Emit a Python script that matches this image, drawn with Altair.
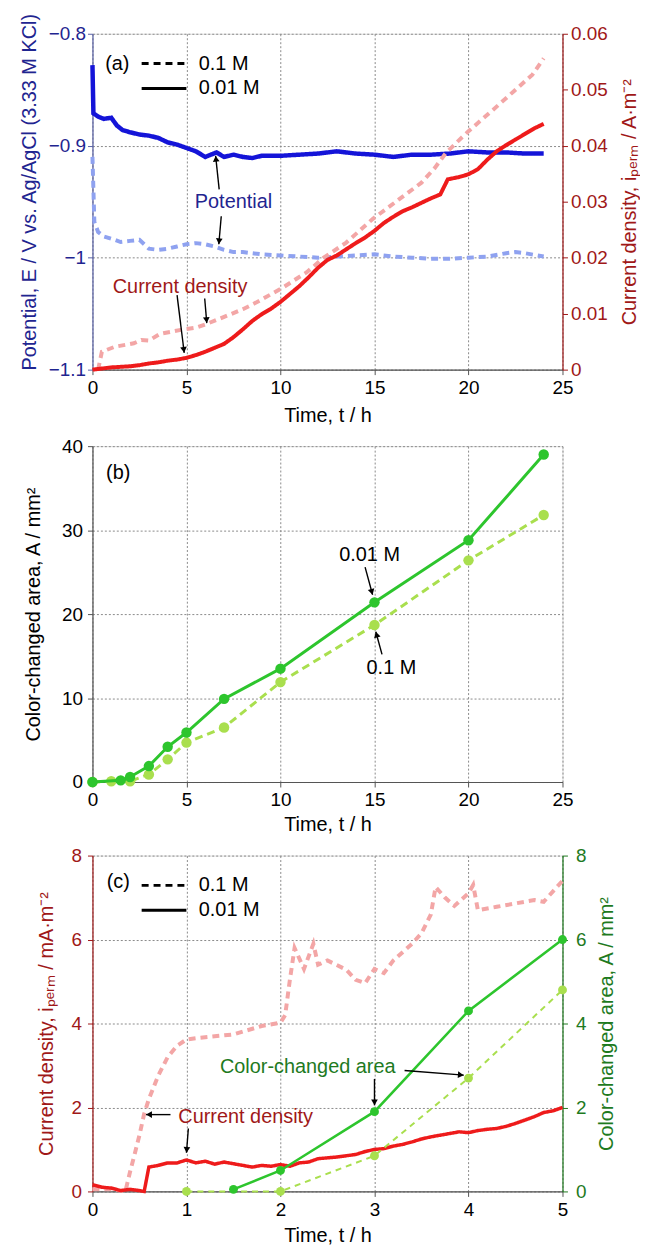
import math
import altair as alt
import pandas as pd

FONT = "Liberation Sans"
W, H = 473, 338

# ---------------- Panel (a) data ----------------
a_pot_001_t = [0, 0.05, 0.3, 0.6, 1.0, 1.3, 1.6, 2.0, 2.5, 3.0, 3.5, 4.0, 4.5, 5.0, 5.5, 6.0, 6.3, 6.6,
               7.0, 7.5, 8.0, 8.5, 9.0, 10.0, 11.0, 12.0, 13.0, 14.0, 15.0, 16.0, 17.0, 18.0, 19.0,
               20.0, 21.0, 22.0, 23.0, 24.0]
a_pot_001_v = [-0.828, -0.871, -0.874, -0.876, -0.875, -0.882, -0.886, -0.888, -0.890, -0.891, -0.893,
               -0.897, -0.899, -0.902, -0.905, -0.910, -0.908, -0.906, -0.910, -0.908, -0.910, -0.911,
               -0.909, -0.909, -0.908, -0.907, -0.905, -0.907, -0.908, -0.910, -0.908, -0.908, -0.907,
               -0.905, -0.906, -0.906, -0.907, -0.907]

a_pot_01_t = [0, 0.1, 0.3, 0.6, 1.0, 1.5, 2.0, 2.5, 3.0, 3.5, 4.0, 4.5, 5.0, 5.5, 6.0, 6.5, 7.0, 7.5,
              8.0, 9.0, 10.0, 11.0, 12.0, 13.0, 14.0, 15.0, 16.0, 17.0, 18.0, 19.0, 20.0, 21.0, 22.0,
              22.5, 23.0, 24.0]
a_pot_01_v = [-0.910, -0.968, -0.977, -0.981, -0.983, -0.986, -0.985, -0.984, -0.992, -0.993, -0.992,
              -0.990, -0.988, -0.987, -0.988, -0.990, -0.993, -0.995, -0.995, -0.997, -0.998, -0.999,
              -1.000, -0.999, -0.998, -0.997, -0.999, -1.000, -1.001, -1.001, -1.000, -0.999, -0.996,
              -0.995, -0.996, -0.999]

a_cd_001_t = [0, 0.5, 1, 1.5, 2, 2.5, 3, 3.5, 4, 4.5, 5, 5.5, 6, 6.5, 7, 7.5, 8, 8.5, 9, 9.5, 10, 10.5,
              11, 11.5, 12, 12.5, 13, 13.5, 14, 14.5, 15, 15.5, 16, 16.5, 17, 17.5, 18, 18.5, 18.9,
              19.5, 20, 20.5, 21, 21.5, 22, 22.5, 23, 23.5, 24]
a_cd_001_v = [0, 0.0002, 0.0004, 0.0005, 0.0006, 0.0008, 0.0011, 0.0013, 0.0016, 0.0018, 0.0021,
              0.0026, 0.0032, 0.0039, 0.0046, 0.0058, 0.0072, 0.0087, 0.0099, 0.0109, 0.0121, 0.0135,
              0.0149, 0.0165, 0.0182, 0.0196, 0.0204, 0.0215, 0.0226, 0.0236, 0.0248, 0.0262, 0.0273,
              0.0283, 0.0290, 0.0298, 0.0306, 0.0313, 0.0340, 0.0344, 0.0349, 0.0358, 0.0375, 0.0390,
              0.0401, 0.0411, 0.0421, 0.0431, 0.0439]

a_cd_01_t = [0.3, 0.5, 1.2, 2.2, 2.6, 3.0, 3.6, 4.7, 5.5, 6.1, 7.2, 8.0, 8.6, 10.0, 11.4, 12.3, 13.5,
             14.9, 16.3, 17.5, 18.2, 18.8, 19.5, 20.0, 21.3, 22.4, 23.4, 24.0]
a_cd_01_v = [0, 0.0032, 0.0041, 0.0047, 0.0053, 0.0052, 0.0064, 0.0071, 0.0075, 0.0082, 0.0097,
             0.0108, 0.0118, 0.0144, 0.0174, 0.0200, 0.0227, 0.0269, 0.0304, 0.0334, 0.0360, 0.0387,
             0.0410, 0.0426, 0.0464, 0.0497, 0.0527, 0.0556]

# annotations (a)
a_panel_label = {"t": [1.32], "v": [-0.8266], "s": ["(a)"]}
a_pot_label = {"t": [7.5], "v": [-0.950], "s": ["Potential"]}
a_pot_arrows = {"x1": [6.74, 6.85], "y1": [-0.939, -0.963], "x2": [6.55, 6.72], "y2": [-0.909, -0.988]}
a_cd_label = {"t": [4.66], "v": [0.0147], "s": ["Current density"]}
a_cd_arrows = {"x1": [4.5, 5.97], "y1": [0.0133, 0.0127], "x2": [4.88, 6.08], "y2": [0.0030, 0.0083]}

# ---------------- Panel (b) data ----------------
b_001_t = [0, 1.5, 2, 3, 4, 5, 7, 10, 15, 20, 24]
b_001_v = [0, 0.2, 0.6, 1.9, 4.2, 5.9, 9.9, 13.5, 21.4, 28.8, 39.0]
b_01_t = [0, 1, 2, 3, 4, 5, 7, 10, 15, 20, 24]
b_01_v = [0, 0.1, 0.1, 0.9, 2.7, 4.7, 6.5, 11.9, 18.7, 26.4, 31.8]
b_panel_label = {"t": [1.37], "v": [36.8], "s": ["(b)"]}
b_labels = {"t": [14.74, 15.9], "v": [27.0, 13.6], "s": ["0.01 M", "0.1 M"]}
b_arrows = {"x1": [14.5, 15.4], "y1": [25.6, 15.2], "x2": [14.9, 15.07], "y2": [22.3, 17.9]}

# ---------------- Panel (c) data ----------------
c_cd_001_t = [0, 0.1, 0.2, 0.3, 0.4, 0.5, 0.55, 0.6, 0.7, 0.8, 0.9, 1.0, 1.1, 1.2, 1.3, 1.4, 1.5,
              1.6, 1.7, 1.8, 1.9, 2.0, 2.1, 2.2, 2.3, 2.4, 2.5, 2.6, 2.7, 2.8, 2.9, 3.0, 3.1, 3.2,
              3.3, 3.4, 3.5, 3.6, 3.7, 3.8, 3.9, 4.0, 4.1, 4.2, 4.3, 4.4, 4.5, 4.6, 4.7, 4.8, 4.9, 5.0]
c_cd_001_v = [0.16, 0.10, 0.08, 0.02, 0.05, 0.02, 0.0, 0.58, 0.62, 0.68, 0.68, 0.75, 0.68, 0.72, 0.65,
              0.70, 0.66, 0.62, 0.58, 0.62, 0.60, 0.64, 0.60, 0.68, 0.70, 0.78, 0.80, 0.82, 0.85, 0.88,
              0.95, 1.00, 1.02, 1.08, 1.12, 1.18, 1.25, 1.30, 1.34, 1.38, 1.42, 1.40, 1.45, 1.48, 1.50,
              1.55, 1.62, 1.70, 1.78, 1.88, 1.92, 2.00]
c_cd_01_t = [0, 0.2, 0.35, 0.4, 0.45, 0.5, 0.55, 0.6, 0.7, 0.8, 0.9, 1.0, 1.1, 1.5, 1.8, 2.0, 2.05,
             2.1, 2.15, 2.25, 2.35, 2.4, 2.5, 2.7, 2.8, 2.9, 3.0, 3.1, 3.2, 3.4, 3.5, 3.6, 3.65, 3.75,
             3.85, 4.0, 4.05, 4.1, 4.3, 4.5, 4.7, 4.8, 5.0]
c_cd_01_v = [0.05, 0.05, 0.0, 0.47, 0.9, 1.34, 1.85, 2.2, 2.76, 3.2, 3.47, 3.62, 3.65, 3.74, 3.94,
             4.02, 4.2, 5.04, 5.8, 5.3, 5.9, 5.4, 5.5, 5.28, 5.04, 4.96, 5.3, 5.2, 5.5, 5.9, 6.15, 6.6,
             7.25, 7.0, 6.8, 7.1, 7.3, 6.7, 6.78, 6.86, 6.94, 6.9, 7.4]
c_area_001_t = [1.5, 2, 3, 4, 5]
c_area_001_v = [0.05, 0.5, 1.9, 4.3, 6.0]
c_area_01_t = [1, 2, 3, 4, 5]
c_area_01_v = [0.0, 0.0, 0.85, 2.7, 4.8]
c_panel_label = {"t": [0.275], "v": [7.36], "s": ["(c)"]}
c_area_label = {"t": [2.29], "v": [2.97], "s": ["Color-changed area"]}
c_area_arrows = {"x1": [3.0, 3.32], "y1": [2.68, 2.88], "x2": [3.0, 3.95], "y2": [2.05, 2.77]}
c_cd_label = {"t": [1.63], "v": [1.77], "s": ["Current density"]}
c_cd_arrows = {"x1": [0.83, 1.02], "y1": [1.83, 1.50], "x2": [0.57, 1.0], "y2": [1.83, 0.92]}

# ---------------- colours ----------------
BLUE = "#1414d8"
LBLUE = "#8fa2f0"
RED = "#ee1b1b"
PINK = "#f3a6a6"
GREEN = "#2dc52d"
LGREEN = "#a9df4e"
NAVY = "#1f2590"
DRED = "#a01818"
DGREEN = "#1e7a1e"
GRID = "#8a8a8a"
FRAME = "#555555"

dash_domain = ["0.1 M", "0.01 M"]
dash_range = [[7, 5], [1, 0]]


def series(t, v, conc):
    return pd.DataFrame({"t": t, "v": v, "conc": [conc] * len(t)})


def arrow_df(d, xdom, ydom, back=3.0):
    rows = []
    xr = xdom[1] - xdom[0]
    yr = ydom[1] - ydom[0]
    for a, b, c, e in zip(d["x1"], d["y1"], d["x2"], d["y2"]):
        dx = (c - a) / xr * W
        dy = -(e - b) / yr * H
        L = math.hypot(dx, dy)
        ang = math.degrees(math.atan2(dx, -dy)) % 360
        hx = c - (dx / L * back) * xr / W
        hy = e + (dy / L * back) * yr / H
        rows.append({"x": a, "y": b, "x2": c, "y2": e, "hx": hx, "hy": hy, "ang": ang})
    return pd.DataFrame(rows)


def axis(values, title, orient, color="black", grid=True, label_pad=2, title_pad=6,
         title_angle=None, title_y=None, title_baseline=None, domain_color=FRAME, fmt=None):
    kw = dict(
        values=values, title=title, orient=orient,
        tickSize=5, tickColor=domain_color, tickWidth=1, labelFlush=False,
        labelPadding=label_pad, titlePadding=title_pad,
        labelColor=color, titleColor=color, domainColor=domain_color, domainWidth=1.2,
        labelFont=FONT, titleFont=FONT, labelFontSize=19, titleFontSize=20,
        titleFontWeight="normal", grid=grid,
    )
    if fmt is not None:
        kw["format"] = fmt
    if grid:
        kw.update(gridColor=GRID, gridDash=[2, 2], gridWidth=1)
    if title_angle is not None:
        kw["titleAngle"] = title_angle
    if title_y is not None:
        kw["titleY"] = title_y
    if title_baseline is not None:
        kw["titleBaseline"] = title_baseline
    return alt.Axis(**kw)


def text_layer(d, xs, ys, color, xax, yax=None):
    return alt.Chart(pd.DataFrame(d)).mark_text(font=FONT, fontSize=20, color=color).encode(
        x=alt.X("t:Q", scale=xs, axis=xax),
        y=alt.Y("v:Q", scale=ys, axis=yax),
        text="s:N",
    )


def arrow_layers(df, xs, ys, xax, yax=None):
    rule = alt.Chart(df).mark_rule(color="black", strokeWidth=1.4).encode(
        x=alt.X("x:Q", scale=xs, axis=xax), y=alt.Y("y:Q", scale=ys, axis=yax),
        x2="x2:Q", y2="y2:Q",
    )
    head = alt.Chart(df).mark_point(shape="triangle-up", filled=True, size=45, color="black",
                                    opacity=1).encode(
        x=alt.X("hx:Q", scale=xs, axis=xax), y=alt.Y("hy:Q", scale=ys, axis=yax),
        angle=alt.Angle("ang:Q", scale=None),
    )
    return [rule, head]


def legend():
    return alt.Legend(
        title=None, orient="none", legendX=47, legendY=20,
        symbolType="M-1,0H5", symbolStrokeColor="black", symbolStrokeWidth=3, symbolSize=225,
        labelFont=FONT, labelFontSize=20, labelColor="black",
        labelOffset=40, rowPadding=5, padding=0, direction="vertical",
    )


def line(df, xs, ys, color, width, xax, yax=None, dash_scale=None, leg=None, dash=None):
    mk = dict(color=color, strokeWidth=width)
    if dash is not None:
        mk["strokeDash"] = dash
    enc = dict(x=alt.X("t:Q", scale=xs, axis=xax), y=alt.Y("v:Q", scale=ys, axis=yax))
    if dash_scale is not None:
        enc["strokeDash"] = alt.StrokeDash("conc:N", scale=dash_scale, legend=leg)
    return alt.Chart(df).mark_line(**mk).encode(**enc)


def dots(df, xs, ys, color, size, xax, yax=None):
    return alt.Chart(df).mark_circle(color=color, size=size, opacity=1).encode(
        x=alt.X("t:Q", scale=xs, axis=xax), y=alt.Y("v:Q", scale=ys, axis=yax))


# ---------------- Panel (a) ----------------
xa_dom, ya_dom, ya2_dom = [0, 25], [-1.1, -0.8], [0, 0.06]
xa = alt.Scale(domain=xa_dom, nice=False)
ya = alt.Scale(domain=ya_dom, nice=False, zero=False)
ya2 = alt.Scale(domain=ya2_dom, nice=False)
dash_a = alt.Scale(domain=dash_domain, range=dash_range)
x_major_25 = [0, 5, 10, 15, 20, 25]
xa_axis = axis(x_major_25, "Time, t / h", "bottom", label_pad=4, title_pad=8)
ya_axis = axis([-1.1, -1.0, -0.9, -0.8], "Potential, E / V vs. Ag/AgCl (3.33 M KCl)", "left",
               color=NAVY, label_pad=2, title_pad=9, title_y=159, domain_color="#5a62a8",
               fmt="~g")
ya2_axis = axis([0, 0.01, 0.02, 0.03, 0.04, 0.05, 0.06], "Current density, iₚₑᵣₘ / A·m⁻²",
                "right", color=DRED, grid=False, label_pad=3, title_pad=12, title_angle=270,
                title_baseline="top", domain_color=DRED, fmt="~g")

layers_a = [
    line(series(a_pot_01_t, a_pot_01_v, "0.1 M"), xa, ya, LBLUE, 4, xa_axis, dash_scale=dash_a,
         leg=legend()),
    line(series(a_pot_001_t, a_pot_001_v, "0.01 M"), xa, ya, BLUE, 4.5, xa_axis, yax=ya_axis,
         dash_scale=dash_a, leg=legend()),
    text_layer(a_panel_label, xa, ya, "black", xa_axis),
    text_layer(a_pot_label, xa, ya, NAVY, xa_axis),
    *arrow_layers(arrow_df(a_pot_arrows, xa_dom, ya_dom), xa, ya, xa_axis),
    line(series(a_cd_01_t, a_cd_01_v, "0.1 M"), xa, ya2, PINK, 4, xa_axis, yax=ya2_axis,
         dash_scale=dash_a, leg=legend()),
    line(series(a_cd_001_t, a_cd_001_v, "0.01 M"), xa, ya2, RED, 4, xa_axis, dash_scale=dash_a,
         leg=legend()),
    text_layer(a_cd_label, xa, ya2, DRED, xa_axis),
    *arrow_layers(arrow_df(a_cd_arrows, xa_dom, ya2_dom), xa, ya2, xa_axis),
]
panel_a = alt.layer(*layers_a).resolve_scale(y="independent").properties(width=W, height=H)

# ---------------- Panel (b) ----------------
xb_dom, yb_dom = [0, 25], [0, 40]
xb = alt.Scale(domain=xb_dom, nice=False)
yb = alt.Scale(domain=yb_dom, nice=False)
xb_axis = axis(x_major_25, "Time, t / h", "bottom", label_pad=4, title_pad=5)
yb_axis = axis([0, 10, 20, 30, 40], "Color-changed area, A / mm²", "left", label_pad=5,
               title_pad=18)
df_b01 = series(b_01_t, b_01_v, "0.1 M")
df_b001 = series(b_001_t, b_001_v, "0.01 M")
panel_b = alt.layer(
    line(df_b01, xb, yb, LGREEN, 3, xb_axis, yax=yb_axis, dash=[8, 5]),
    dots(df_b01, xb, yb, LGREEN, 110, xb_axis, yb_axis),
    line(df_b001, xb, yb, GREEN, 3, xb_axis, yax=yb_axis),
    dots(df_b001, xb, yb, GREEN, 110, xb_axis, yb_axis),
    text_layer(b_panel_label, xb, yb, "black", xb_axis, yb_axis),
    text_layer(b_labels, xb, yb, "black", xb_axis, yb_axis),
    *arrow_layers(arrow_df(b_arrows, xb_dom, yb_dom), xb, yb, xb_axis, yb_axis),
).properties(width=W, height=H)

# ---------------- Panel (c) ----------------
xc_dom, yc_dom = [0, 5], [0, 8]
xc = alt.Scale(domain=xc_dom, nice=False)
yc = alt.Scale(domain=yc_dom, nice=False)
dash_c = alt.Scale(domain=dash_domain, range=dash_range)
xc_axis = axis([0, 1, 2, 3, 4, 5], "Time, t / h", "bottom", label_pad=4, title_pad=6)
yc_axis = axis([0, 2, 4, 6, 8], "Current density, iₚₑᵣₘ / mA·m⁻²", "left", color=DRED,
               label_pad=6, title_pad=15, domain_color=DRED)
yc2_axis = axis([0, 2, 4, 6, 8], "Color-changed area, A / mm²", "right", color=DGREEN,
                grid=False, label_pad=8, title_pad=11, title_angle=270, title_baseline="top",
                domain_color=DGREEN)
df_ca01 = series(c_area_01_t, c_area_01_v, "0.1 M")
df_ca001 = series(c_area_001_t, c_area_001_v, "0.01 M")
layers_c = [
    line(series(c_cd_01_t, c_cd_01_v, "0.1 M"), xc, yc, PINK, 4, xc_axis, yax=yc_axis,
         dash_scale=dash_c, leg=legend()),
    line(series(c_cd_001_t, c_cd_001_v, "0.01 M"), xc, yc, RED, 3.5, xc_axis, dash_scale=dash_c,
         leg=legend()),
    text_layer(c_panel_label, xc, yc, "black", xc_axis),
    text_layer(c_cd_label, xc, yc, DRED, xc_axis),
    *arrow_layers(arrow_df(c_cd_arrows, xc_dom, yc_dom), xc, yc, xc_axis),
    line(df_ca01, xc, yc, LGREEN, 2, xc_axis, yax=yc2_axis, dash=[6, 5]),
    dots(df_ca01, xc, yc, LGREEN, 80, xc_axis),
    line(df_ca001, xc, yc, GREEN, 2.5, xc_axis),
    dots(df_ca001, xc, yc, GREEN, 80, xc_axis),
    text_layer(c_area_label, xc, yc, DGREEN, xc_axis),
    *arrow_layers(arrow_df(c_area_arrows, xc_dom, yc_dom), xc, yc, xc_axis),
]
panel_c = alt.layer(*layers_c).resolve_scale(y="independent").properties(width=W, height=H)

chart = alt.vconcat(panel_a, panel_b, panel_c, spacing=10).resolve_scale(
    x="independent", y="independent", strokeDash="independent"
).resolve_legend(strokeDash="independent").configure_view(
    stroke=FRAME, strokeWidth=1.2
).configure(padding={"left": 10, "top": 0, "right": 0, "bottom": 0}, background="white")

chart.save("out.html", embed_options={"renderer": "svg", "actions": False})
